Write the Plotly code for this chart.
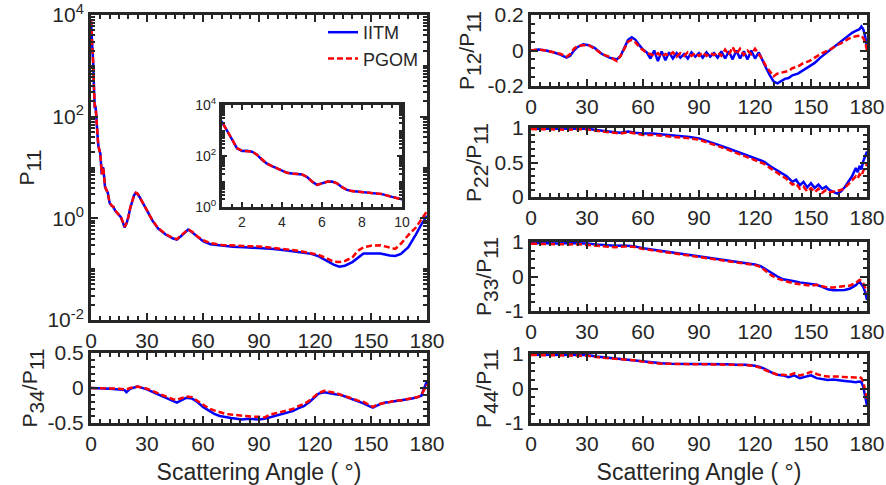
import plotly.graph_objects as go

# ---------------- data ----------------
# Scattering angle grids (degrees)
ANG_P11 = [0, 0.25, 0.5, 0.75, 1.0, 1.25, 1.5, 1.75, 2.0, 2.25, 2.5, 2.75, 3.0, 3.25,
           3.5, 3.75, 4.0, 4.25, 4.5, 4.75, 5.0, 5.25, 5.5, 5.75, 6.0, 6.25, 6.5, 6.75,
           7.0, 7.25, 7.5, 8.0, 8.5, 9.0, 9.5, 10, 11, 12, 13, 14, 15, 16, 17, 18, 19,
           20, 21, 22, 23, 24, 25, 26, 28, 30, 33, 36, 40, 44, 46, 48, 50, 52, 54, 57,
           60, 64, 70, 76, 82, 90, 98, 105, 112, 118, 122, 126, 130, 133, 136, 140, 143,
           146, 150, 155, 160, 163, 166, 170, 174, 177, 180]
P11_IITM = [7400, 5200, 4000, 3000, 2140, 1000, 450, 200, 158, 160, 148, 112, 71, 50,
            40, 32, 26, 22, 20.4, 20, 19, 15, 10, 7.4, 8.3, 9.8, 10, 8.5,
            6.0, 4.7, 4.2, 3.8, 3.5, 3.2, 2.5, 2.0, 1.78, 1.66, 1.41, 1.26, 1.12, 1.05, 0.85, 0.66, 0.79,
            1.05, 1.58, 2.24, 2.8, 3.16, 3.0, 2.63, 1.9, 1.35, 0.89, 0.63, 0.48, 0.40, 0.38, 0.44, 0.52, 0.60, 0.54, 0.43,
            0.355, 0.31, 0.29, 0.275, 0.27, 0.263, 0.25, 0.234, 0.219, 0.20, 0.178, 0.148, 0.123, 0.112, 0.117, 0.138, 0.166,
            0.204, 0.204, 0.204, 0.186, 0.182, 0.20, 0.27, 0.48, 0.76, 1.12]
P11_PGOM = [7600, 5300, 4100, 3000, 2140, 1000, 450, 205, 160, 160, 150, 112, 72, 50,
            40, 32, 26, 22, 20.4, 20, 19, 15, 10, 7.4, 8.3, 9.8, 10, 8.5,
            6.0, 4.7, 4.2, 3.8, 3.5, 3.2, 2.5, 2.0, 1.8, 1.68, 1.42, 1.28, 1.13, 1.06, 0.86, 0.68, 0.80,
            1.06, 1.6, 2.25, 2.8, 3.2, 3.05, 2.65, 1.92, 1.37, 0.9, 0.64, 0.49, 0.41, 0.39, 0.45, 0.53, 0.61, 0.55, 0.44,
            0.37, 0.325, 0.30, 0.29, 0.285, 0.28, 0.265, 0.245, 0.228, 0.208, 0.19, 0.165, 0.14, 0.138, 0.145, 0.17, 0.23,
            0.27, 0.29, 0.295, 0.263, 0.25, 0.316, 0.47, 0.66, 0.95, 1.38]

ANG_P34 = [0, 5, 10, 15, 18, 19, 21, 25, 30, 35, 40, 44, 46, 48, 51, 54, 57, 60, 63, 66,
           69, 72, 75, 78, 81, 84, 87, 90, 93, 96, 99, 102, 105, 108, 111, 114, 117, 120,
           122, 125, 128, 131, 134, 137, 140, 143, 146, 149, 151, 154, 157, 160, 163, 166,
           169, 172, 175, 177, 178.5, 180]
P34_IITM = [0.0, 0.0, -0.01, -0.02, -0.03, -0.06, -0.01, 0.02, -0.02, -0.08, -0.14, -0.19, -0.21, -0.18,
            -0.14, -0.15, -0.2, -0.27, -0.32, -0.37, -0.40, -0.42, -0.43, -0.44, -0.45, -0.44, -0.45,
            -0.45, -0.44, -0.42, -0.40, -0.37, -0.35, -0.33, -0.29, -0.26, -0.2, -0.13, -0.08, -0.06,
            -0.08, -0.09, -0.1, -0.13, -0.16, -0.18, -0.22, -0.26, -0.28, -0.24, -0.21, -0.2, -0.19,
            -0.18, -0.16, -0.15, -0.13, -0.11, 0.0, 0.1]
P34_PGOM = [0.0, 0.0, 0.0, -0.01, -0.02, -0.02, 0.0, 0.02, -0.01, -0.07, -0.12, -0.16, -0.17, -0.15,
            -0.12, -0.13, -0.18, -0.24, -0.29, -0.32, -0.35, -0.37, -0.38, -0.39, -0.39, -0.40, -0.41,
            -0.41, -0.42, -0.38, -0.36, -0.35, -0.32, -0.3, -0.26, -0.23, -0.18, -0.11, -0.07, -0.04,
            -0.05, -0.07, -0.1, -0.12, -0.15, -0.18, -0.2, -0.24, -0.27, -0.23, -0.22, -0.2, -0.18,
            -0.18, -0.16, -0.14, -0.13, -0.1, -0.02, 0.05]

ANG_P12 = [0, 4, 8, 12, 16, 19, 21, 23, 25, 28, 31, 34, 38, 42, 44, 46, 48, 50, 52, 54,
           56, 58, 60, 62, 64, 66, 68, 70, 72, 74, 76, 78, 80, 82, 84, 86, 88, 90, 92, 94,
           96, 98, 100, 102, 104, 106, 108, 110, 112, 114, 116, 118, 120, 122, 124, 126,
           128, 130, 132, 134, 136, 138, 140, 143, 146, 149, 152, 155, 158, 161, 164, 167,
           170, 172, 174, 176, 177, 178, 179, 180]
P12_IITM = [0.0, 0.005, 0.0, -0.01, -0.025, -0.04, -0.03, 0.0, 0.02, 0.035, 0.03, 0.015, -0.02, -0.04,
            -0.045, -0.05, -0.03, 0.02, 0.06, 0.075, 0.06, 0.03, 0.005, -0.01, -0.045, 0.0, -0.06,
            -0.005, -0.055, -0.01, -0.045, -0.015, -0.04, -0.02, -0.045, -0.01, -0.035, -0.015, -0.04,
            -0.01, -0.035, -0.015, -0.04, -0.005, -0.045, -0.005, -0.05, 0.0, -0.045, -0.005, -0.05,
            0.0, -0.045, -0.01, -0.06, -0.1, -0.14, -0.175, -0.185, -0.17, -0.16, -0.155, -0.14,
            -0.13, -0.11, -0.09, -0.07, -0.04, -0.015, 0.01, 0.035, 0.06, 0.085, 0.1, 0.11, 0.12,
            0.135, 0.12, 0.08, 0.02]
P12_PGOM = [0.0, 0.005, 0.0, -0.01, -0.02, -0.035, -0.02, 0.01, 0.025, 0.03, 0.03, 0.01, -0.02, -0.035,
            -0.05, -0.06, -0.03, 0.01, 0.05, 0.06, 0.045, 0.02, 0.0, -0.015, -0.02, -0.03, -0.015,
            -0.035, -0.02, -0.03, -0.01, -0.035, -0.015, -0.03, -0.01, -0.03, -0.015, -0.03, -0.01,
            -0.03, -0.015, -0.025, -0.01, -0.03, 0.005, -0.025, 0.02, -0.02, 0.01, -0.025, 0.0,
            -0.02, 0.01, -0.02, -0.05, -0.09, -0.12, -0.145, -0.13, -0.125, -0.12, -0.115, -0.1,
            -0.09, -0.07, -0.06, -0.04, -0.02, -0.005, 0.01, 0.03, 0.045, 0.065, 0.075, 0.08, 0.085,
            0.085, 0.07, 0.05, 0.0]

ANG_P22 = [0, 10, 20, 25, 30, 35, 40, 45, 48, 52, 56, 60, 65, 70, 75, 80, 85, 90, 95, 100,
           105, 110, 115, 120, 125, 128, 131, 134, 137, 140, 142, 144, 146, 148, 150, 152,
           154, 156, 158, 160, 162, 164, 166, 168, 170, 172, 174, 175, 176, 177, 178, 179, 180]
P22_IITM = [0.99, 0.99, 0.985, 0.99, 0.99, 0.97, 0.96, 0.94, 0.93, 0.95, 0.93, 0.92, 0.92, 0.91,
            0.9, 0.89, 0.87, 0.85, 0.81, 0.76, 0.71, 0.66, 0.61, 0.56, 0.51, 0.45, 0.4, 0.35, 0.3,
            0.22, 0.25, 0.17, 0.22, 0.14, 0.2, 0.13, 0.18, 0.12, 0.15, 0.1, 0.07, 0.05, 0.08, 0.14,
            0.22, 0.3, 0.42, 0.36, 0.45, 0.4, 0.52, 0.58, 0.66]
P22_PGOM = [0.985, 0.98, 0.975, 0.985, 0.98, 0.96, 0.95, 0.93, 0.92, 0.94, 0.92, 0.9, 0.9, 0.89,
            0.88, 0.87, 0.85, 0.83, 0.79, 0.74, 0.69, 0.64, 0.58, 0.53, 0.48, 0.42, 0.37, 0.32, 0.26,
            0.18, 0.2, 0.12, 0.15, 0.08, 0.13, 0.07, 0.12, 0.06, 0.1, 0.07, 0.08, 0.09, 0.1, 0.13,
            0.18, 0.24, 0.3, 0.27, 0.33, 0.3, 0.38, 0.42, 0.48]

ANG_P33 = [0, 5, 10, 15, 20, 25, 30, 35, 40, 45, 50, 55, 60, 65, 70, 75, 80, 85, 90, 95,
           100, 105, 110, 115, 120, 123, 126, 129, 132, 135, 138, 141, 144, 147, 150, 153,
           156, 159, 162, 165, 168, 171, 174, 176, 177, 178, 179, 180]
P33_IITM = [0.97, 0.96, 0.97, 0.96, 0.97, 0.97, 0.96, 0.93, 0.9, 0.89, 0.9, 0.88, 0.82, 0.78,
            0.75, 0.72, 0.68, 0.64, 0.6, 0.56, 0.52, 0.47, 0.42, 0.38, 0.35, 0.3, 0.2, 0.08, 0.0,
            -0.08, -0.12, -0.14, -0.17, -0.2, -0.22, -0.24, -0.3, -0.37, -0.4, -0.4, -0.39, -0.35,
            -0.25, -0.15, -0.22, -0.3, -0.45, -0.68]
P33_PGOM = [0.95, 0.94, 0.93, 0.94, 0.93, 0.94, 0.92, 0.88, 0.86, 0.85, 0.87, 0.86, 0.8, 0.76,
            0.73, 0.7, 0.66, 0.62, 0.58, 0.54, 0.5, 0.45, 0.4, 0.36, 0.33, 0.28, 0.16, 0.02, -0.06,
            -0.12, -0.16, -0.2, -0.22, -0.25, -0.27, -0.24, -0.27, -0.32, -0.32, -0.3, -0.28, -0.26,
            -0.18, -0.1, -0.12, -0.2, -0.32, -0.45]

ANG_P44 = [0, 5, 10, 15, 20, 25, 30, 35, 40, 45, 50, 55, 60, 65, 70, 75, 80, 85, 90, 95,
           100, 105, 110, 115, 120, 123, 126, 129, 132, 135, 138, 141, 144, 147, 150, 153,
           156, 159, 162, 165, 168, 171, 174, 176, 177, 178, 178.5, 179, 179.5, 180]
P44_IITM = [0.98, 0.98, 0.97, 0.98, 0.98, 0.97, 0.97, 0.93, 0.9, 0.87, 0.85, 0.83, 0.78, 0.75,
            0.73, 0.72, 0.72, 0.71, 0.71, 0.7, 0.7, 0.7, 0.69, 0.69, 0.66, 0.62, 0.55, 0.46, 0.4,
            0.38, 0.33, 0.38, 0.3, 0.33, 0.38, 0.3, 0.27, 0.25, 0.26, 0.25, 0.22, 0.2, 0.18, 0.2,
            0.18, 0.05, -0.1, -0.3, -0.45, -0.5]
P44_PGOM = [0.97, 0.97, 0.96, 0.97, 0.96, 0.96, 0.95, 0.91, 0.88, 0.86, 0.84, 0.82, 0.77, 0.74,
            0.72, 0.71, 0.7, 0.7, 0.7, 0.7, 0.7, 0.69, 0.68, 0.68, 0.65, 0.6, 0.52, 0.45, 0.4,
            0.4, 0.38, 0.44, 0.38, 0.42, 0.48, 0.42, 0.37, 0.35, 0.36, 0.35, 0.33, 0.32, 0.32, 0.34,
            0.3, 0.2, 0.1, -0.05, -0.2, -0.3]

SERIES = ["IITM", "PGOM"]
X_TICKS = [0, 30, 60, 90, 120, 150, 180]
INSET_X_TICKS = [2, 4, 6, 8, 10]

# ---------------- styling ----------------
FONT = "Liberation Sans, Arial, sans-serif"
TEXT = "#262626"
FRAME = "#262626"
BLUE = "#0000FF"
RED = "#FF0000"
LW = 2.5
TICK_SIZE = 21

fig = go.Figure()


def add_pair(x, y_iitm, y_pgom, xa, ya, legend=False):
    fig.add_trace(go.Scatter(x=x, y=y_iitm, mode="lines", name=SERIES[0],
                             line=dict(color=BLUE, width=LW),
                             xaxis=xa, yaxis=ya, showlegend=legend))
    fig.add_trace(go.Scatter(x=x, y=y_pgom, mode="lines", name=SERIES[1],
                             line=dict(color=RED, width=LW, dash="6px,3px"),
                             xaxis=xa, yaxis=ya, showlegend=legend))


add_pair(ANG_P11, P11_IITM, P11_PGOM, "x", "y", legend=True)
add_pair(ANG_P34, P34_IITM, P34_PGOM, "x2", "y2")
add_pair(ANG_P12, P12_IITM, P12_PGOM, "x3", "y3")
add_pair(ANG_P22, P22_IITM, P22_PGOM, "x4", "y4")
add_pair(ANG_P33, P33_IITM, P33_PGOM, "x5", "y5")
add_pair(ANG_P44, P44_IITM, P44_PGOM, "x6", "y6")
add_pair(ANG_P11, P11_IITM, P11_PGOM, "x7", "y7")

W, H = 886, 485


def px_x(a, b):
    return [a / W, b / W]


def px_y(top, bottom):
    return [1 - bottom / H, 1 - top / H]


def axis_style(size=TICK_SIZE, ticklen=7, minor_dtick=None, minor_len=4):
    d = dict(showline=True, linecolor=FRAME, linewidth=3, mirror="ticks",
             ticks="inside", ticklen=ticklen, tickwidth=2, tickcolor=FRAME,
             showgrid=False, zeroline=False, automargin=False, layer="above traces",
             tickfont=dict(size=size, color=TEXT, family=FONT))
    if minor_dtick is not None:
        d["minor"] = dict(ticks="inside", ticklen=minor_len, tickwidth=2,
                          tickcolor=FRAME, dtick=minor_dtick, showgrid=False)
    return d


def sub(s):
    # full-size lowered subscript
    return "<span style='baseline-shift:-7px'>%s</span>" % s


def ratio_title(num):
    return "P" + sub(num) + "/P" + sub("11")


def x_axis(dom, anchor, title=None):
    d = axis_style(minor_dtick=5)
    d.update(domain=dom, anchor=anchor, range=[0, 180], tickmode="array",
             tickvals=X_TICKS, ticktext=[str(v) for v in X_TICKS])
    if title:
        d["title"] = dict(text=title, font=dict(size=23, color=TEXT, family=FONT), standoff=10)
    return d


def lin_y(dom, anchor, rng, vals, texts, title, minor, standoff=4):
    d = axis_style(minor_dtick=minor)
    d.update(domain=dom, anchor=anchor, range=rng, tickmode="array",
             tickvals=vals, ticktext=texts,
             title=dict(text=title, font=dict(size=21, color=TEXT, family=FONT), standoff=standoff))
    return d


LEFT = px_x(91, 427)
RIGHT = px_x(531, 867)

layout = dict(
    width=W, height=H,
    margin=dict(l=0, r=0, t=0, b=0, pad=0, autoexpand=False),
    paper_bgcolor="white", plot_bgcolor="white",
    font=dict(family=FONT, color=TEXT),
    legend=dict(x=424 / W, y=1 - 14 / H, xanchor="right", yanchor="top",
                bgcolor="rgba(0,0,0,0)", font=dict(size=18, color=TEXT, family=FONT),
                itemwidth=30, tracegroupgap=0),
)

# main P11 panel (log scale)
yl = axis_style(minor_dtick="D1")
yl.update(domain=px_y(15, 320), anchor="x", type="log", range=[-2, 4],
          tickmode="array", tickvals=[1e-2, 1, 1e2, 1e4],
          ticktext=["10<sup>-2</sup>", "10<sup>0</sup>", "10<sup>2</sup>", "10<sup>4</sup>"],
          title=dict(text="P" + sub("11"),
                     font=dict(size=21, color=TEXT, family=FONT), standoff=8))
layout["xaxis"] = x_axis(LEFT, "y")
layout["yaxis"] = yl

layout["xaxis2"] = x_axis(LEFT, "y2", "Scattering Angle ( °)")
layout["yaxis2"] = lin_y(px_y(353, 423), "x2", [-0.5, 0.5], [-0.5, 0, 0.5],
                         ["-0.5", "0", "0.5"], ratio_title("34"), 0.1)

layout["xaxis3"] = x_axis(RIGHT, "y3")
layout["yaxis3"] = lin_y(px_y(15, 86), "x3", [-0.2, 0.2], [-0.2, 0, 0.2],
                         ["-0.2", "0", "0.2"], ratio_title("12"), 0.05, standoff=8)

layout["xaxis4"] = x_axis(RIGHT, "y4")
layout["yaxis4"] = lin_y(px_y(128, 197), "x4", [0, 1], [0, 0.5, 1],
                         ["0", "0.5", "1"], ratio_title("22"), 0.1, standoff=8)

layout["xaxis5"] = x_axis(RIGHT, "y5")
layout["yaxis5"] = lin_y(px_y(242, 311), "x5", [-1, 1], [-1, 0, 1],
                         ["-1", "0", "1"], ratio_title("33"), 0.25, standoff=8)

layout["xaxis6"] = x_axis(RIGHT, "y6", "Scattering Angle ( °)")
layout["yaxis6"] = lin_y(px_y(354, 423), "x6", [-1, 1], [-1, 0, 1],
                         ["-1", "0", "1"], ratio_title("44"), 0.25, standoff=8)

# inset: forward-scattering detail of P11
xi = axis_style(size=14, ticklen=5, minor_dtick=0.5, minor_len=3)
xi.update(domain=px_x(222, 402), anchor="y7", range=[1, 10], tickmode="array",
          tickvals=INSET_X_TICKS, ticktext=[str(v) for v in INSET_X_TICKS])
yi = axis_style(size=14, ticklen=5, minor_dtick="D1", minor_len=3)
yi.update(domain=px_y(105, 207), anchor="x7", type="log", range=[0, 4],
          tickmode="array", tickvals=[1, 1e2, 1e4],
          ticktext=["10<sup>0</sup>", "10<sup>2</sup>", "10<sup>4</sup>"])
layout["xaxis7"] = xi
layout["yaxis7"] = yi

fig.update_layout(**layout)
fig.write_html("out.html")
